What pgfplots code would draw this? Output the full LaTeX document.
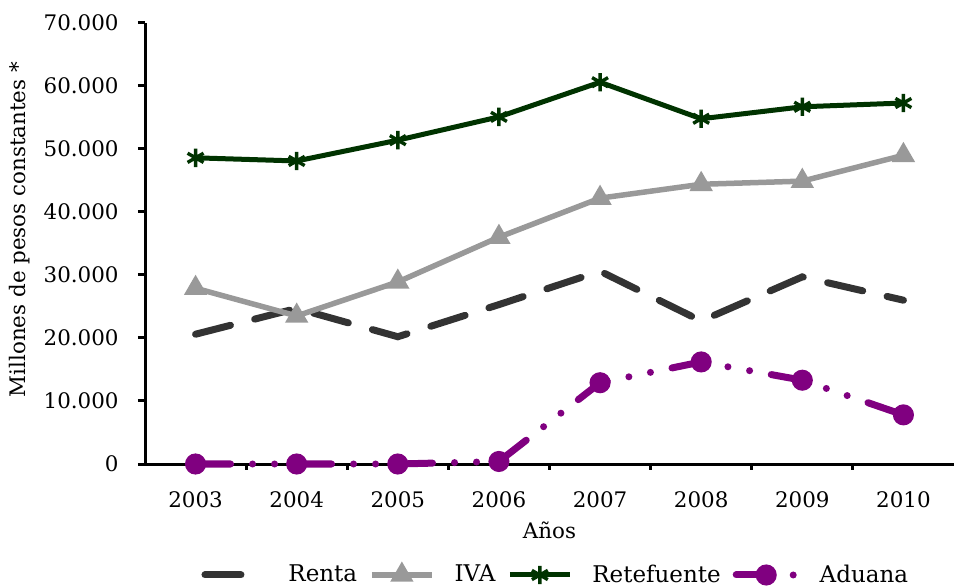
\documentclass[border=0pt]{standalone}
\usepackage{fontspec}
\setmainfont{DejaVu Serif}
\usepackage{pgfplots}
\pgfplotsset{compat=1.18}
\definecolor{renta}{HTML}{333333}
\definecolor{iva}{HTML}{999999}
\definecolor{rete}{HTML}{003300}
\definecolor{adu}{HTML}{800080}
\begin{document}
\fontsize{10.5bp}{12.6bp}\selectfont
\begin{tikzpicture}
\useasboundingbox (0,0) rectangle (477bp,293.5bp);
\begin{axis}[
  at={(72.5bp,61.5bp)}, anchor=south west,
  scale only axis, width=404.5bp, height=220.5bp,
  xmin=-0.5, xmax=7.5, ymin=0, ymax=70000,
  axis lines=left, axis line style={line width=1.5bp, -},
  xtick={0,...,7},
  xticklabels={2003,2004,2005,2006,2007,2008,2009,2010},
  minor xtick={0.5,1.5,...,6.5},
  major x tick style={draw=none},
  ytick={0,10000,...,70000},
  tick align=outside,
  every tick/.style={line width=1.5bp, black},
  major tick length=3.5bp, minor tick length=3bp,
  yticklabel style={xshift=-6bp, /pgf/number format/1000 sep={.}, /pgf/number format/assume math mode=true},
  xticklabel style={yshift=-6.5bp},
  scaled y ticks=false,
  tick label style={font=\fontsize{10.7bp}{12.6bp}\selectfont},
  label style={font=\fontsize{10.7bp}{12.6bp}\selectfont},
  xlabel={Años}, ylabel={Millones de pesos constantes *},
  xlabel style={yshift=0bp},
  ylabel style={yshift=-0.5bp, xshift=7bp},
  clip=false,
  legend columns=4,
  legend style={at={(0.509,-0.2517)}, anchor=center, draw=none, fill=none,
    font=\fontsize{11.5bp}{13bp}\selectfont,
    /tikz/every even column/.append style={column sep=4bp},
    /tikz/every odd column/.append style={column sep=8bp}},
  legend image code/.code={\draw[mark repeat=2,mark phase=2,#1] plot coordinates {(0bp,0bp) (15bp,0bp) (30bp,0bp)};},
]
\addplot[color=renta, line width=3.5bp, line cap=round, dash pattern=on 18bp off 12.5bp] coordinates {
(0,20600) (1,24700) (2,20200) (3,25300) (4,30600) (5,22700) (6,29700) (7,26000)};
\addlegendentry{Renta}
\addplot[color=iva, line width=2.75bp, mark=triangle*, mark size=4bp, mark options={solid}] coordinates {
(0,27900) (1,23500) (2,28900) (3,36000) (4,42200) (5,44400) (6,44900) (7,49000)};
\addlegendentry{IVA}
\addplot[color=rete, line width=2.5bp, mark=asterisk, mark size=4.6bp, mark options={line width=1.7bp, solid}] coordinates {
(0,48600) (1,48100) (2,51400) (3,55100) (4,60600) (5,54800) (6,56700) (7,57300)};
\addlegendentry{Retefuente}
\addplot[color=adu, line width=3.5bp, line cap=round, dash pattern=on 17.5bp off 11bp on 0bp off 11bp on 0bp off 11bp, mark=*, mark size=3.5bp, mark options={solid}] coordinates {
(0,0) (1,0) (2,0) (3,400) (4,12900) (5,16200) (6,13300) (7,7800)};
\addlegendentry{Aduana}
\end{axis}
\end{tikzpicture}
\end{document}
